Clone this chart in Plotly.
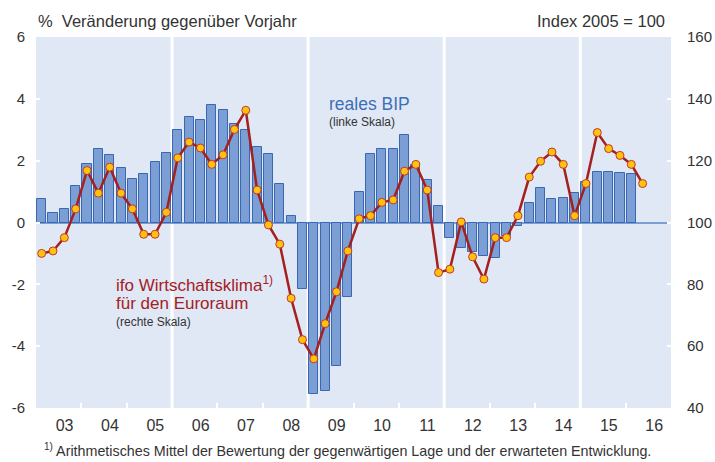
import plotly.graph_objects as go

# ---- data -------------------------------------------------------------
years = list(range(2003, 2017))
quarters = [1, 2, 3, 4]

# Real GDP, euro area, % change vs. previous year (2003Q1 .. 2016Q1)
gdp = [0.76, 0.32, 0.45, 1.17,
       1.88, 2.37, 2.18, 1.75,
       1.41, 1.56, 1.97, 2.24,
       2.99, 3.41, 3.30, 3.81,
       3.65, 3.17, 3.00, 2.43,
       2.22, 1.23, 0.22, -2.15,
       -5.55, -5.45, -4.65, -2.40,
       1.00, 2.22, 2.39, 2.39,
       2.84, 1.87, 1.38, 0.52,
       -0.49, -0.81, -0.95, -1.08,
       -1.15, -0.45, -0.10, 0.63,
       1.10, 0.76, 0.78, 0.95,
       1.30, 1.64, 1.64, 1.60,
       1.57]

# ifo economic climate for the euro area, index 2005 = 100 (2003Q1 .. 2016Q2)
ifo = [90.0, 90.8, 95.1, 104.4,
       116.8, 109.5, 117.9, 109.5,
       104.4, 96.2, 96.2, 103.3,
       120.9, 126.0, 124.1, 118.8,
       121.9, 130.1, 136.3, 110.5,
       99.2, 93.0, 75.5, 62.1,
       55.9, 67.3, 77.6, 90.8,
       101.2, 102.2, 106.5, 107.3,
       116.6, 118.8, 110.5, 83.8,
       84.9, 100.2, 88.9, 81.7,
       95.1, 95.1, 102.2, 114.7,
       119.8, 122.8, 118.8, 102.2,
       112.6, 129.1, 123.9, 121.7,
       118.8, 112.6]

year_labels = ["03", "04", "05", "06", "07", "08", "09",
               "10", "11", "12", "13", "14", "15", "16"]
left_ticks = [-6, -4, -2, 0, 2, 4, 6]
left_tick_labels = ["-6", "-4", "-2", "0", "2", "4", "6"]
right_ticks = [40, 60, 80, 100, 120, 140, 160]
separators = [2006, 2009, 2012, 2015]

# ---- derived positions (quarter midpoints on a continuous time axis) ----
periods = [y + (q - 0.5) / 4 for y in years for q in quarters]
x_gdp = periods[:len(gdp)]
x_ifo = periods[:len(ifo)]

FONT = "Liberation Sans, Arial, sans-serif"
TXT = "#333333"
BAR_FILL = "#7b9fd5"
BAR_LINE = "#3a67b3"
RED = "#a3201f"
BG = "#e1e8f5"

fig = go.Figure()
fig.add_trace(go.Bar(
    x=x_gdp, y=gdp, width=0.2,
    marker=dict(color=BAR_FILL, line=dict(color=BAR_LINE, width=1)),
    yaxis="y", showlegend=False, hoverinfo="skip"))
fig.add_trace(go.Scatter(
    x=x_ifo, y=ifo, mode="lines+markers", yaxis="y2",
    line=dict(color=RED, width=2.5),
    marker=dict(size=8, color="#ffc20e", line=dict(color="#c0392b", width=1)),
    showlegend=False, hoverinfo="skip"))

shapes = [dict(type="line", xref="x", yref="paper", x0=s, x1=s, y0=0, y1=1,
               line=dict(color="white", width=3), layer="below")
          for s in separators]

fig.update_layout(
    width=715, height=462,
    margin=dict(l=36, r=44, t=37, b=54, autoexpand=False),
    paper_bgcolor="white", plot_bgcolor=BG,
    font=dict(family=FONT, color=TXT, size=15),
    bargap=0,
    shapes=shapes,
    xaxis=dict(
        range=[2003, 2017], showgrid=False, zeroline=False, showline=False,
        automargin=False,
        tickmode="array",
        tickvals=[y + 0.63 for y in years], ticktext=year_labels,
        ticks="", tickfont=dict(size=16, color=TXT), ticklabelstandoff=6,
        minor=dict(tickmode="array", tickvals=years[1:], ticks="inside",
                   ticklen=5, tickcolor="white", tickwidth=2),
        fixedrange=True),
    yaxis=dict(
        range=[-6, 6], tickmode="array", tickvals=left_ticks,
        ticktext=left_tick_labels, automargin=False,
        showgrid=False, zeroline=True, zerolinecolor="#7a9fd4", zerolinewidth=2,
        ticks="inside", ticklen=4, tickcolor="white", tickwidth=2,
        tickfont=dict(size=15, color=TXT), ticklabelstandoff=10,
        showline=False),
    yaxis2=dict(
        range=[40, 160], tickmode="array", tickvals=right_ticks, automargin=False,
        overlaying="y", side="right", showgrid=False, zeroline=False,
        ticks="inside", ticklen=4, tickcolor="white", tickwidth=2,
        tickfont=dict(size=15, color=TXT), ticklabelstandoff=15,
        showline=False),
    annotations=[
        dict(text="%  Veränderung gegenüber Vorjahr", xref="paper", yref="paper",
             x=0, y=1, xshift=0, yshift=16, xanchor="left", yanchor="middle",
             showarrow=False, font=dict(size=16.5, color=TXT)),
        dict(text="Index 2005 = 100", xref="paper", yref="paper",
             x=1, y=1, xshift=-4, yshift=16, xanchor="right", yanchor="middle",
             showarrow=False, font=dict(size=16.5, color=TXT)),
        dict(text="reales BIP", xref="x", yref="y", x=2009.41, y=3.84,
             xanchor="left", yanchor="middle", showarrow=False,
             font=dict(size=17.5, color="#3d6fb8")),
        dict(text="(linke Skala)", xref="x", yref="y", x=2009.41, y=3.25,
             xanchor="left", yanchor="middle", showarrow=False,
             font=dict(size=12, color=TXT)),
        dict(text="ifo Wirtschaftsklima<sup>1)</sup>", xref="x", yref="y",
             x=2004.72, y=-2.0, xanchor="left", yanchor="middle", showarrow=False,
             font=dict(size=17, color=RED)),
        dict(text="für den Euroraum", xref="x", yref="y",
             x=2004.72, y=-2.62, xanchor="left", yanchor="middle", showarrow=False,
             font=dict(size=17, color=RED)),
        dict(text="(rechte Skala)", xref="x", yref="y",
             x=2004.72, y=-3.22, xanchor="left", yanchor="middle", showarrow=False,
             font=dict(size=12, color=TXT)),
        dict(text="<sup>1)</sup> Arithmetisches Mittel der Bewertung der gegenwärtigen Lage und der erwarteten Entwicklung.",
             xref="paper", yref="paper", x=0, y=0, xshift=6, yshift=-42,
             xanchor="left", yanchor="middle", showarrow=False,
             font=dict(size=14.3, color=TXT)),
    ],
)

fig.write_html("out.html", config={"displayModeBar": False},
               post_script="document.body.style.margin='0';document.body.style.padding='0';")
